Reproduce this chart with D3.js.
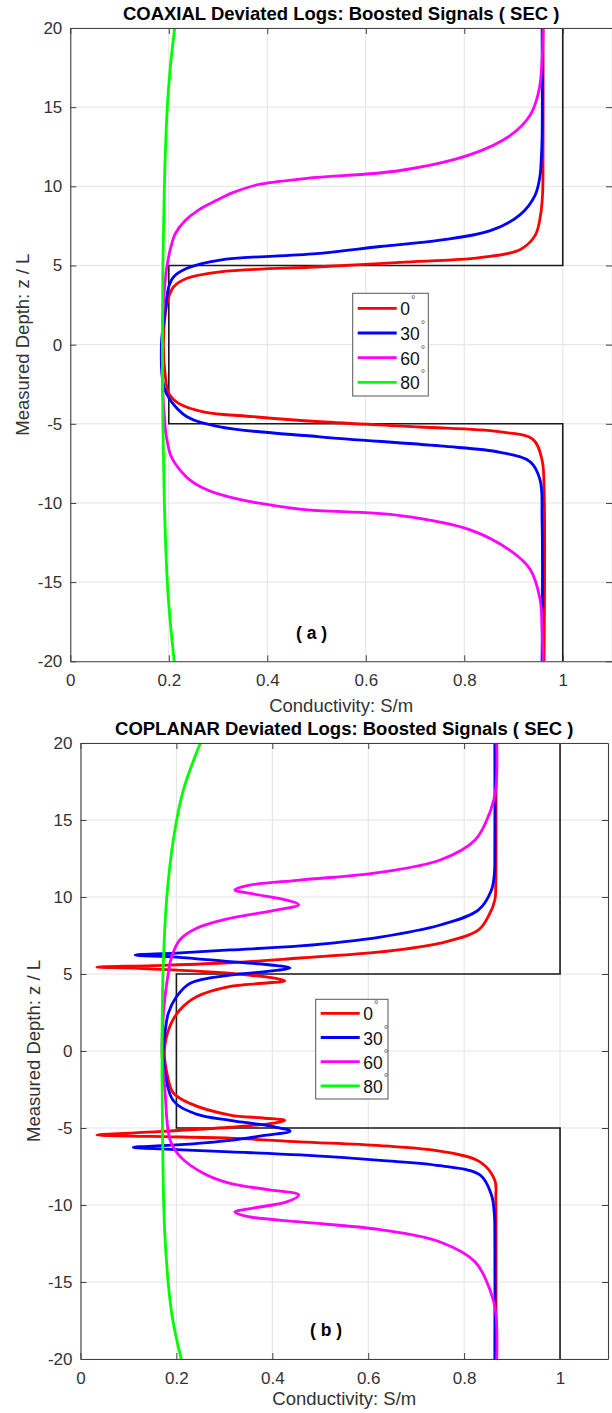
<!DOCTYPE html>
<html>
<head>
<meta charset="utf-8">
<script src="https://cdn.jsdelivr.net/npm/d3@7"></script>
<style>
  body { margin: 0; background: #fff; }
  svg { display: block; font-family: "Liberation Sans", Arial, Helvetica, sans-serif; }
</style>
</head>
<body>
<svg id="chart" width="612" height="1413"></svg>
<script>
// ---- data ----
const depthTicks = [-20, -15, -10, -5, 0, 5, 10, 15, 20];
const condTicks = [0, 0.2, 0.4, 0.6, 0.8, 1];
const angleLabels = ["0", "30", "60", "80"];
const curveColors = ["#ff0000", "#0000ff", "#ff00ff", "#00ff00"];

// true formation (black step)
const trueDepth = [20, 5, 5, -5, -5, -20];
const trueSigma = [1, 1, 0.2, 0.2, 1, 1];

// (a) COAXIAL
const coaxZ0 = [20, 12, 9.5, 8.2, 6.9, 6.0, 5.5, 5.2, 4.92, 4.6, 4.19, 3.66, 3.03, 2.0, 0, -2.0, -3.08, -3.71, -4.24, -4.55, -4.87, -5.2, -5.5, -6.0, -7.3, -9, -20];
const coaxS0 = [0.96, 0.96, 0.959, 0.955, 0.944, 0.913, 0.832, 0.67, 0.507, 0.304, 0.237, 0.21, 0.2, 0.193, 0.189, 0.193, 0.2, 0.22, 0.27, 0.372, 0.507, 0.71, 0.87, 0.94, 0.958, 0.962, 0.962];
const coaxZ30 = [20, 13, 11.5, 10.7, 9.45, 8.2, 7.2, 6.6, 6.2, 5.77, 5.34, 4.82, 4.29, 3.66, 2.19, 0, -2.66, -3.5, -4.55, -5.19, -5.82, -6.4, -6.8, -7.4, -8.55, -11.1, -20];
const coaxS30 = [0.958, 0.958, 0.956, 0.954, 0.944, 0.913, 0.853, 0.751, 0.629, 0.507, 0.304, 0.237, 0.21, 0.2, 0.193, 0.185, 0.19, 0.203, 0.237, 0.304, 0.507, 0.751, 0.873, 0.934, 0.954, 0.958, 0.958];
const coaxZ60 = [20, 18, 16.1, 14.5, 13.2, 12, 11.0, 10.5, 10.1, 9.6, 9.13, 8.5, 7.8, 7.0, 6.0, 4.9, 3.0, 0, -3.0, -4.9, -5.6, -7.08, -8.0, -8.6, -9.2, -9.6, -10.0, -10.4, -10.8, -11.7, -13.0, -14.2, -16.1, -18, -20];
const coaxS60 = [0.96, 0.958, 0.952, 0.934, 0.893, 0.812, 0.67, 0.48, 0.38, 0.33, 0.298, 0.26, 0.232, 0.213, 0.203, 0.196, 0.19, 0.187, 0.188, 0.192, 0.194, 0.205, 0.225, 0.245, 0.28, 0.32, 0.38, 0.47, 0.67, 0.812, 0.893, 0.934, 0.954, 0.958, 0.96];
const coaxZ80 = [20, 17.5, 15, 10, 5, 0, -5, -10, -15, -17.5, -20];
const coaxS80 = [0.212, 0.203, 0.197, 0.191, 0.188, 0.187, 0.188, 0.191, 0.197, 0.203, 0.211];

// (b) COPLANAR
const copZ0 = [20, 11, 9.8, 8.83, 7.86, 7.0, 6.43, 6.04, 5.73, 5.55, 5.45, 5.37, 5.05, 4.7, 4.55, 4.4, 4.18, 3.52, 2.66, 1.58, 0, -1.4, -2.7, -3.4, -4.16, -4.35, -4.5, -4.65, -4.95, -5.3, -5.45, -5.55, -5.66, -5.9, -6.15, -6.5, -7.2, -8.4, -9.7, -20];
const copS0 = [0.866, 0.866, 0.864, 0.852, 0.83, 0.75, 0.625, 0.458, 0.312, 0.15, 0.034, 0.12, 0.31, 0.41, 0.426, 0.38, 0.31, 0.242, 0.207, 0.186, 0.175, 0.18, 0.193, 0.228, 0.312, 0.38, 0.426, 0.41, 0.312, 0.12, 0.034, 0.15, 0.312, 0.458, 0.625, 0.75, 0.833, 0.864, 0.866, 0.866];
const copZ30 = [20, 13, 11.5, 10.45, 9.16, 8.18, 7.4, 6.82, 6.56, 6.35, 6.23, 6.1, 5.8, 5.55, 5.4, 5.2, 4.93, 4.39, 3.52, 2.44, 1.14, 0, -0.35, -3.2, -4.1, -4.5, -4.9, -5.2, -5.5, -5.8, -6.1, -6.26, -6.4, -6.55, -6.75, -7.1, -7.45, -8.05, -9.35, -10.6, -12, -20];
const copS30 = [0.864, 0.864, 0.863, 0.857, 0.83, 0.75, 0.625, 0.458, 0.312, 0.2, 0.114, 0.2, 0.312, 0.41, 0.437, 0.4, 0.312, 0.228, 0.2, 0.183, 0.176, 0.172, 0.172, 0.193, 0.242, 0.312, 0.40, 0.437, 0.38, 0.312, 0.2, 0.11, 0.2, 0.312, 0.458, 0.625, 0.75, 0.833, 0.857, 0.863, 0.864, 0.864];
const copZ60 = [20, 17, 15.6, 13.7, 12.4, 11.6, 11.1, 10.75, 10.45, 10.2, 9.8, 9.5, 9.1, 8.62, 7.97, 7.21, 6.1, 5.02, 3.95, 2.45, 0, -2.5, -5.8, -6.86, -7.94, -8.6, -9.0, -9.35, -9.8, -10.2, -10.45, -10.75, -11.1, -11.6, -12.4, -13.7, -15.6, -17, -20];
const copS60 = [0.868, 0.866, 0.855, 0.823, 0.75, 0.625, 0.458, 0.35, 0.322, 0.36, 0.43, 0.455, 0.4, 0.312, 0.242, 0.207, 0.19, 0.183, 0.178, 0.173, 0.17, 0.176, 0.187, 0.208, 0.256, 0.312, 0.39, 0.455, 0.43, 0.36, 0.322, 0.35, 0.458, 0.625, 0.75, 0.823, 0.855, 0.866, 0.868];
const copZ80 = [20, 17, 14, 10, 5, 0, -5, -12, -17, -20];
const copS80 = [0.25, 0.215, 0.195, 0.18, 0.172, 0.17, 0.171, 0.176, 0.19, 0.21];

const svg = d3.select("#chart");

function zip(zs, ss) { return zs.map((z, i) => [ss[i], z]); }

function drawPanel(p) {
    var x = d3.scaleLinear().domain([0, 1.1]).range([p.left, p.right]);
    var y = d3.scaleLinear().domain([-20, 20]).range([p.bottom, p.top]);
    var g = svg.append("g");

    // grid
    g.selectAll(".gx").data(condTicks).enter().append("line")
        .attr("x1", d => x(d)).attr("x2", d => x(d))
        .attr("y1", p.top).attr("y2", p.bottom)
        .attr("stroke", "#e3e3e3").attr("stroke-width", 1);
    g.selectAll(".gy").data(depthTicks).enter().append("line")
        .attr("y1", d => y(d)).attr("y2", d => y(d))
        .attr("x1", p.left).attr("x2", p.right)
        .attr("stroke", "#e3e3e3").attr("stroke-width", 1);

    var line = d3.line()
        .x(d => x(d[0])).y(d => y(d[1]))
        .curve(d3.curveCatmullRom.alpha(0.5));

    // true model
    g.append("path")
        .attr("d", d3.line().x(d => x(d[0])).y(d => y(d[1]))(zip(trueDepth, trueSigma)))
        .attr("fill", "none").attr("stroke", "#1a1a1a").attr("stroke-width", 1.6);

    p.series.forEach(function (s, i) {
        g.append("path")
            .attr("d", line(zip(s[0], s[1])))
            .attr("fill", "none")
            .attr("stroke", curveColors[i])
            .attr("stroke-width", 2.8)
            .attr("stroke-linejoin", "round");
    });

    // axes (MATLAB style: inward ticks on all four sides)
    var axCol = "#404040";
    var fmt = d => String(d);
    function style(sel) {
        sel.select(".domain").attr("stroke", axCol).attr("stroke-width", 1.1);
        sel.selectAll(".tick line").attr("stroke", axCol);
        sel.selectAll(".tick text").attr("fill", "#333").attr("font-size", 17)
            .attr("font-family", "Liberation Sans, Arial, sans-serif");
    }
    g.append("g").attr("transform", "translate(0," + p.bottom + ")")
        .call(d3.axisBottom(x).tickValues(condTicks).tickFormat(fmt)
            .tickSizeInner(-6).tickSizeOuter(0).tickPadding(13))
        .call(style);
    g.append("g").attr("transform", "translate(0," + p.top + ")")
        .call(d3.axisTop(x).tickValues(condTicks).tickFormat("")
            .tickSizeInner(-6).tickSizeOuter(0))
        .call(style);
    g.append("g").attr("transform", "translate(" + p.left + ",0)")
        .call(d3.axisLeft(y).tickValues(depthTicks).tickFormat(fmt)
            .tickSizeInner(-6).tickSizeOuter(0).tickPadding(8))
        .call(style);
    g.append("g").attr("transform", "translate(" + p.right + ",0)")
        .call(d3.axisRight(y).tickValues(depthTicks).tickFormat("")
            .tickSizeInner(-6).tickSizeOuter(0))
        .call(style);

    // title and labels
    g.append("text").attr("x", (p.left + p.right) / 2).attr("y", p.top - 8)
        .attr("text-anchor", "middle").attr("font-size", 18.5).attr("font-weight", "bold")
        .attr("fill", "#000").text(p.title);
    g.append("text").attr("x", (p.left + p.right) / 2).attr("y", p.bottom + p.xLabelGap)
        .attr("text-anchor", "middle").attr("font-size", 18.5).attr("fill", "#333")
        .text("Conductivity: S/m");
    g.append("text")
        .attr("transform", "translate(" + (p.left - 41) + "," + ((p.top + p.bottom) / 2) + ") rotate(-90)")
        .attr("text-anchor", "middle").attr("font-size", 18.5).attr("fill", "#333")
        .text("Measured Depth: z / L");
    g.append("text").attr("x", x(p.tagAt[0])).attr("y", y(p.tagAt[1]))
        .attr("text-anchor", "middle").attr("dy", "0.35em")
        .attr("font-size", 17.5).attr("font-weight", "bold").attr("fill", "#000")
        .text(p.tag);

    // legend
    var L = p.legend;
    g.append("rect").attr("x", L.x).attr("y", L.y).attr("width", L.w).attr("height", L.h)
        .attr("fill", "#fff").attr("stroke", "#555").attr("stroke-width", 1);
    angleLabels.forEach(function (a, i) {
        var ry = L.y + L.first + i * L.step;
        g.append("line").attr("x1", L.x + 5).attr("x2", L.x + 44)
            .attr("y1", ry).attr("y2", ry)
            .attr("stroke", curveColors[i]).attr("stroke-width", 2.8);
        var t = g.append("text").attr("x", L.x + 47.5).attr("y", ry + 7)
            .attr("font-size", 17.5).attr("fill", "#111");
        t.append("tspan").text(a);
        t.append("tspan").attr("dx", 1).attr("dy", -12).attr("font-size", 11).attr("fill", "#555").text("°");
    });
}

drawPanel({
    left: 70.3, right: 612, top: 28, bottom: 661.3, xLabelGap: 51,
    title: "COAXIAL Deviated Logs: Boosted Signals ( SEC )",
    tag: "( a )", tagAt: [0.49, -18.2],
    series: [[coaxZ0, coaxS0], [coaxZ30, coaxS30], [coaxZ60, coaxS60], [coaxZ80, coaxS80]],
    legend: { x: 352.7, y: 293.3, w: 75.6, h: 102.7, first: 15, step: 24.7 }
});
drawPanel({
    left: 80.5, right: 608, top: 743, bottom: 1359, xLabelGap: 46,
    title: "COPLANAR Deviated Logs: Boosted Signals ( SEC )",
    tag: "( b )", tagAt: [0.512, -18.1],
    series: [[copZ0, copS0], [copZ30, copS30], [copZ60, copS60], [copZ80, copS80]],
    legend: { x: 315.7, y: 999.3, w: 72.3, h: 99.7, first: 14, step: 24.2 }
});
</script>
</body>
</html>
